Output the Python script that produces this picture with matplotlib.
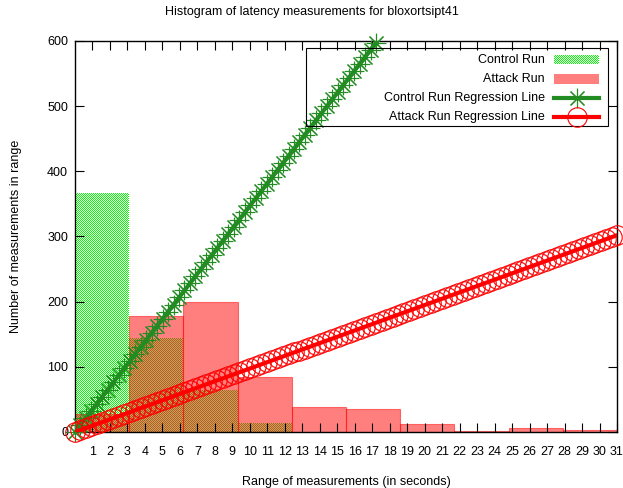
import numpy as np
import matplotlib
matplotlib.use("Agg")
import matplotlib.pyplot as plt
from matplotlib.patches import Rectangle
from matplotlib.lines import Line2D

# Histogram bins (seconds) and counts per bin
bin_width = 3.1
bin_starts = [0.0, 3.1, 6.2, 9.3, 12.4, 15.5, 18.6, 21.7, 24.8, 27.9]
control_counts = [367, 145, 65, 14, 0, 0, 0, 0, 0, 0]
attack_counts = [28, 178, 200, 85, 39, 35, 13, 2, 6, 3]

# Regression fits (count = slope * seconds + intercept)
control_slope, control_intercept = 34.7, 0.0
attack_slope, attack_intercept = 9.74, 0.0
n_samples = 100

x_ticks = list(range(1, 32))
y_ticks = [0, 100, 200, 300, 400, 500, 600]
x_range = (0, 31)
y_range = (0, 600)

title = "Histogram of latency measurements for bloxortsipt41"
x_label = "Range of measurements (in seconds)"
y_label = "Number of measurements in range"
legend_labels = ["Control Run", "Attack Run",
                 "Control Run Regression Line", "Attack Run Regression Line"]

FS = 9
plt.rcParams["font.family"] = ["Liberation Sans", "DejaVu Sans"]
plt.rcParams["font.size"] = FS

W, H = 623, 488
AX_L, AX_B, AX_W, AX_H = 75, 56, 542, 391          # axes box in pixels
fig = plt.figure(figsize=(W / 100, H / 100), dpi=100, facecolor="white")
ax = fig.add_axes([AX_L / W, AX_B / H, AX_W / W, AX_H / H])
ax.patch.set_alpha(0.0)
ax.set_xlim(*x_range)
ax.set_ylim(*y_range)
ax.set_autoscale_on(False)


def ax_x(px):
    return (px - AX_L) / AX_W


def ax_y(py):  # py measured from the top of the figure
    return (H - AX_B - py) / AX_H


# Control run: one-pixel green checker inside each box, rendered as a
# pixel-exact image beneath the axes contents.
pix = np.zeros((AX_H, AX_W, 4))
cols = np.arange(AX_W) + AX_L + 0.5
rows_px = np.arange(AX_H) + AX_B + 0.5
to_data = ax.transData.inverted()
data_x = to_data.transform(np.column_stack([cols, np.full_like(cols, AX_B)]))[:, 0]
data_y = to_data.transform(np.column_stack([np.full_like(rows_px, AX_L), rows_px]))[:, 1]
DX, DY = np.meshgrid(data_x, data_y)
inside = np.zeros(DX.shape, dtype=bool)
for start, count in zip(bin_starts, control_counts):
    if count > 0:
        inside |= (DX >= start) & (DX < start + bin_width) & (DY < count)

# key sample for the control run
kx0, kx1, ky0, ky1 = ax_x(554), ax_x(599), ax_y(64), ax_y(55)
AXX = (cols - AX_L) / AX_W
AXY = (rows_px - AX_B) / AX_H
KX, KY = np.meshgrid(AXX, AXY)
inside |= (KX >= kx0) & (KX < kx1) & (KY >= ky0) & (KY < ky1)

II, JJ = np.meshgrid(np.arange(AX_H), np.arange(AX_W), indexing="ij")
on = inside & ((II + JJ) % 2 == 0)
pix[on] = (0.0, 1.0, 0.0, 1.0)
fig.figimage(pix, xo=AX_L, yo=AX_B, origin="lower", zorder=-1)

# Attack run: translucent red boxes over the checker pattern
ax.bar(bin_starts, attack_counts, width=bin_width, align="edge",
       color="red", alpha=0.5, edgecolor="red", linewidth=0.8, zorder=1)

# Regression lines sampled across the x range
xs = np.linspace(x_range[0], x_range[1], n_samples)
yc = control_slope * xs + control_intercept
ya = attack_slope * xs + attack_intercept

ax.plot(xs, yc, color="#228b22", lw=3, zorder=3)
keep = yc <= y_range[1]
ax.plot(xs[keep], yc[keep], ls="none", marker=(8, 2, 0), ms=14,
        mec="#228b22", mew=0.8, clip_on=False, zorder=3)

ax.plot(xs, ya, color="red", lw=3, zorder=4)
ax.plot(xs, ya, ls="none", marker="o", ms=14, mfc="none",
        mec="red", mew=0.8, clip_on=False, zorder=4)

# Axes styling
ax.set_xticks(x_ticks)
ax.set_yticks(y_ticks)
ax.tick_params(direction="in", length=6.5, width=0.8, top=True, right=True,
               labelsize=FS, colors="black")
ax.tick_params(axis="x", pad=10)
ax.tick_params(axis="y", pad=5)
for s in ax.spines.values():
    s.set_linewidth(1.0)

ax.set_xlabel(x_label, fontsize=FS)
ax.xaxis.set_label_coords(0.5, ax_y(476))
ax.xaxis.label.set_va("top")
ax.set_ylabel(y_label, fontsize=FS)
ax.yaxis.set_label_coords(ax_x(22), 0.5)
fig.text(0.5, 1 - 12 / H, title, ha="center", va="center", fontsize=FS)

# Key box in the upper right
ta = ax.transAxes
ax.add_patch(Rectangle((ax_x(306), ax_y(126)), ax_x(608) - ax_x(306),
                       ax_y(48) - ax_y(126), transform=ta, fill=False,
                       edgecolor="black", lw=0.8, zorder=5, clip_on=False))
for py, lab in zip([60, 79, 98, 117], legend_labels):
    ax.text(ax_x(545), ax_y(py), lab, transform=ta, ha="right", va="center",
            fontsize=FS, zorder=6)

ax.add_patch(Rectangle((ax_x(554), ax_y(84)), ax_x(599) - ax_x(554),
                       ax_y(74) - ax_y(84), transform=ta, color="red",
                       alpha=0.5, lw=0, zorder=5))
ax.add_line(Line2D([ax_x(554), ax_x(599)], [ax_y(98)] * 2, transform=ta,
                   color="#228b22", lw=3, zorder=5))
ax.add_line(Line2D([ax_x(576.5)], [ax_y(98)], transform=ta, ls="none",
                   marker=(8, 2, 0), ms=14, mec="#228b22", mew=0.8, zorder=5))
ax.add_line(Line2D([ax_x(554), ax_x(599)], [ax_y(117)] * 2, transform=ta,
                   color="red", lw=3, zorder=5))
ax.add_line(Line2D([ax_x(576.5)], [ax_y(117)], transform=ta, ls="none",
                   marker="o", ms=14, mfc="none", mec="red", mew=0.8,
                   zorder=5))

fig.savefig("out.png", dpi=100, facecolor="white")
